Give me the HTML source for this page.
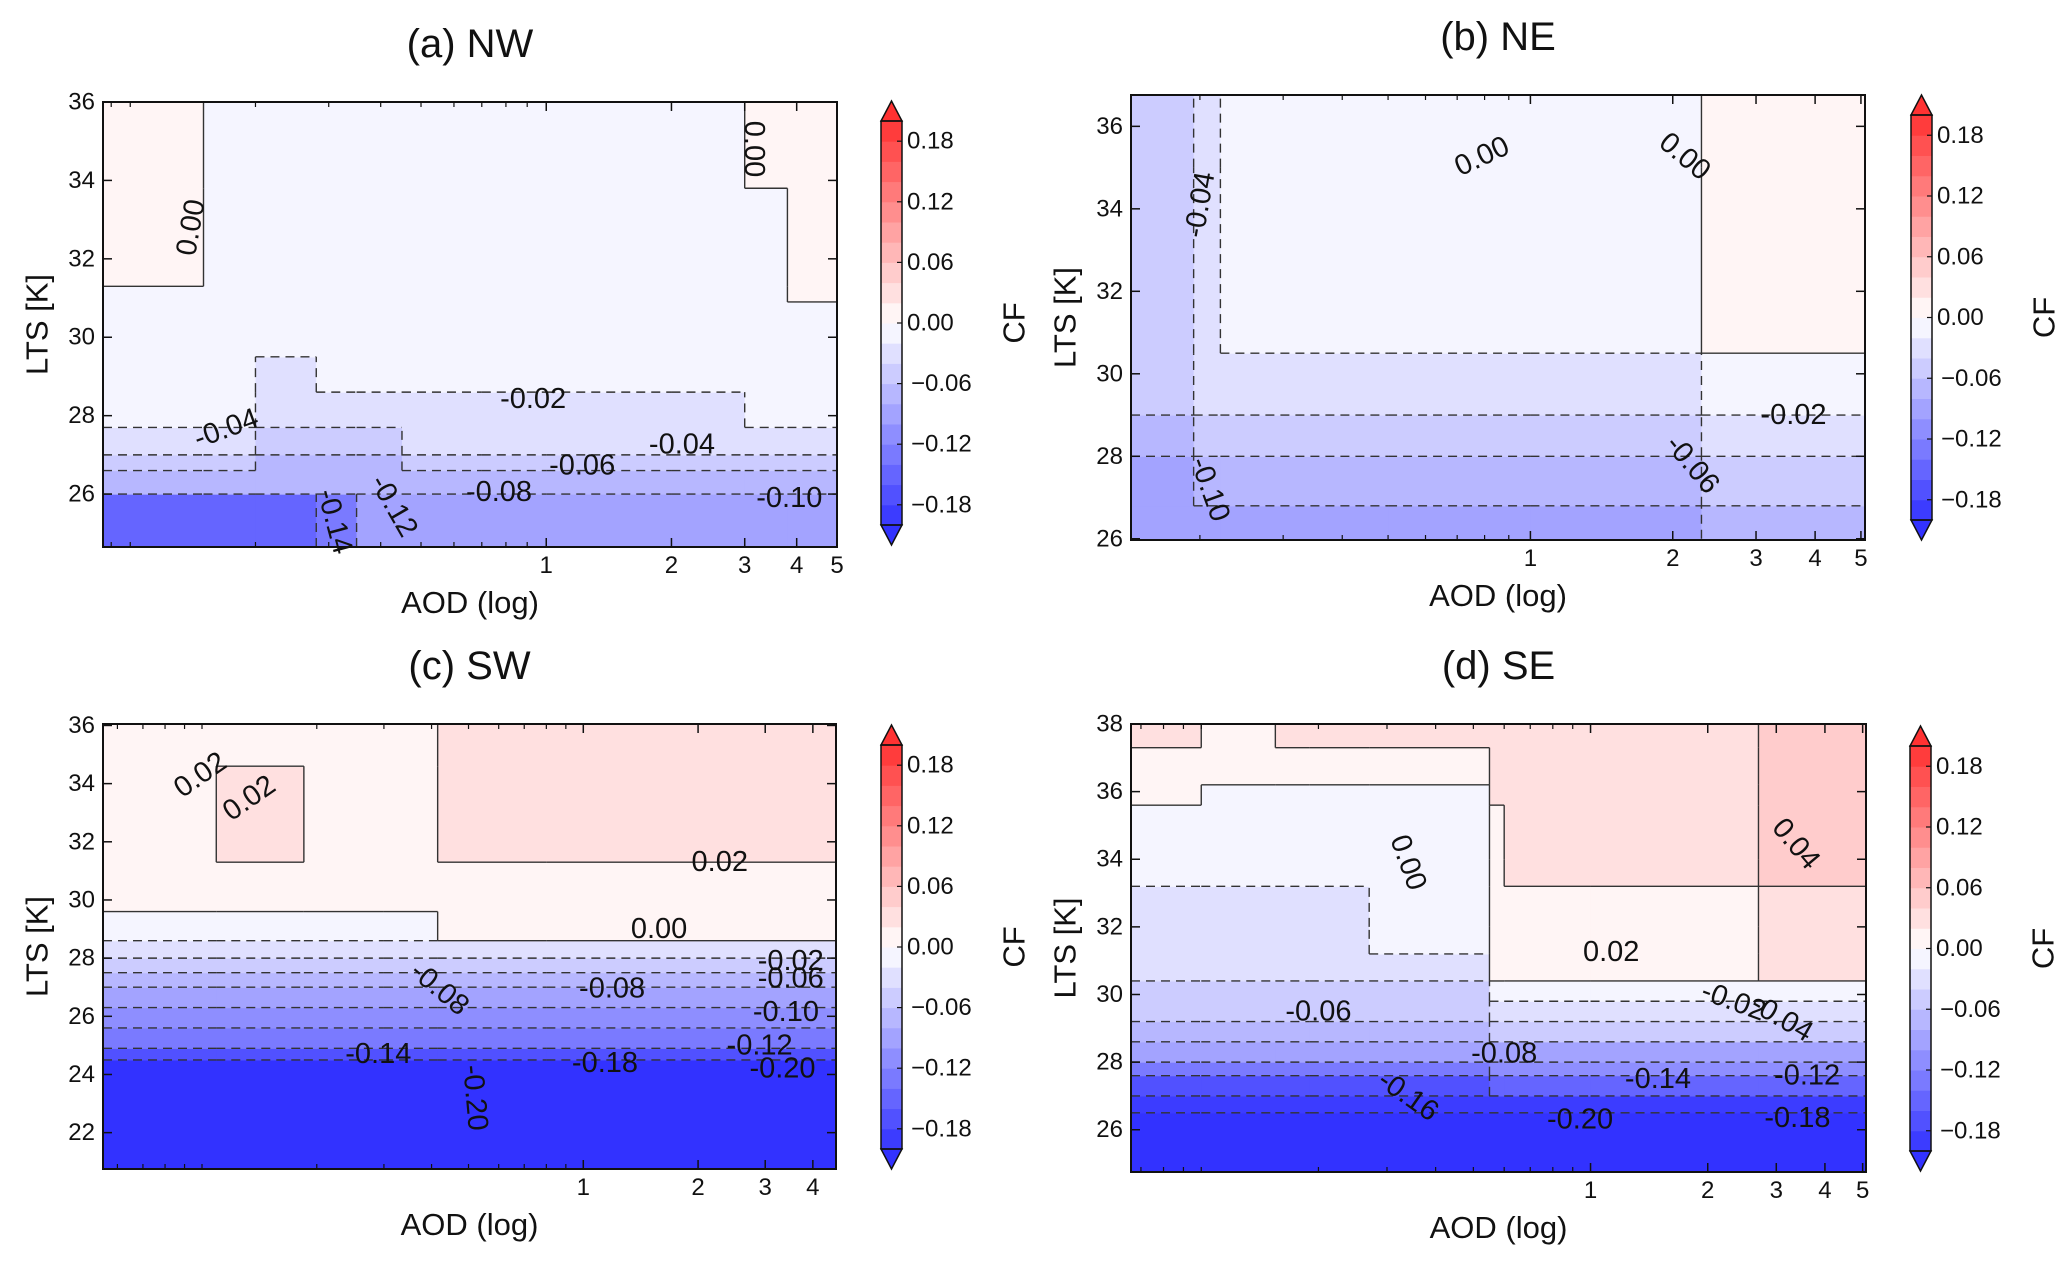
<!DOCTYPE html>
<html><head><meta charset="utf-8"><style>
html,body{margin:0;padding:0;background:#fff}
svg{display:block}
text{font-family:"Liberation Sans",sans-serif;fill:#111}
</style></head><body>
<svg id="fig" width="2067" height="1270" viewBox="0 0 2067 1270" xmlns="http://www.w3.org/2000/svg"></svg>
<script>
// ---------- DATA ----------
// Panel (a) NW
const aAodEdges=[0.086,0.15,0.2,0.28,0.35,0.45,0.7,1,2,3,3.8,5];
const aLtsEdges=[24.65,26.0,26.6,27.0,27.7,28.6,29.5,30.9,31.3,33.8,36];
const aValues=[
[-0.15,-0.15,-0.15,-0.13,-0.09,-0.09,-0.09,-0.09,-0.09,-0.09,-0.09],
[-0.07,-0.07,-0.07,-0.07,-0.07,-0.07,-0.07,-0.07,-0.07,-0.07,-0.07],
[-0.05,-0.05,-0.07,-0.07,-0.07,-0.05,-0.05,-0.05,-0.05,-0.05,-0.05],
[-0.03,-0.03,-0.05,-0.05,-0.05,-0.03,-0.03,-0.03,-0.03,-0.03,-0.03],
[-0.01,-0.01,-0.03,-0.03,-0.03,-0.03,-0.03,-0.03,-0.03,-0.01,-0.01],
[-0.01,-0.01,-0.03,-0.01,-0.01,-0.01,-0.01,-0.01,-0.01,-0.01,-0.01],
[-0.01,-0.01,-0.01,-0.01,-0.01,-0.01,-0.01,-0.01,-0.01,-0.01,-0.01],
[-0.01,-0.01,-0.01,-0.01,-0.01,-0.01,-0.01,-0.01,-0.01,-0.01,0.01],
[0.01,-0.01,-0.01,-0.01,-0.01,-0.01,-0.01,-0.01,-0.01,-0.01,0.01],
[0.01,-0.01,-0.01,-0.01,-0.01,-0.01,-0.01,-0.01,-0.01,0.01,0.01]];
const aLabels=[["0.00",0.14,32.8,-80],["0.00",3.16,34.8,90],["-0.02",0.93,28.43,0],["-0.04",0.17,27.67,-20],["-0.04",2.12,27.27,0],["-0.06",1.22,26.73,0],["-0.08",0.77,26.05,0],["-0.10",3.84,25.9,0],["-0.14",0.31,25.3,75],["-0.12",0.43,25.7,60]];

// Panel (b) NE
const bAodEdges=[0.143,0.194,0.221,0.5,1.0,2.3,5.1];
const bLtsEdges=[26,26.8,28.0,29.0,30.5,35,36.75];
const bValues=[
[-0.09,-0.09,-0.09,-0.09,-0.09,-0.07],
[-0.09,-0.07,-0.07,-0.07,-0.07,-0.05],
[-0.07,-0.05,-0.05,-0.05,-0.05,-0.03],
[-0.05,-0.03,-0.03,-0.03,-0.03,-0.01],
[-0.05,-0.03,-0.01,-0.01,-0.01,0.01],
[-0.05,-0.03,-0.01,-0.01,-0.01,0.01]];
const bLabels=[["0.00",0.79,35.27,-25],["0.00",2.12,35.27,40],["-0.04",0.2,34.1,-80],["-0.02",3.6,29.0,0],["-0.06",2.2,27.8,50],["-0.10",0.21,27.2,70]];

// Panel (c) SW
const cAodEdges=[0.055,0.109,0.185,0.3,0.415,0.8,4.6];
const cLtsEdges=[20.75,24.5,24.9,25.6,26.3,27.0,27.5,28.0,28.6,29.6,31.3,34.6,36.05];
const cValues=[
[-0.21,-0.21,-0.21,-0.21,-0.21,-0.21],
[-0.17,-0.17,-0.17,-0.17,-0.17,-0.17],
[-0.13,-0.13,-0.13,-0.13,-0.13,-0.13],
[-0.11,-0.11,-0.11,-0.11,-0.11,-0.11],
[-0.09,-0.09,-0.09,-0.09,-0.09,-0.09],
[-0.07,-0.07,-0.07,-0.07,-0.07,-0.07],
[-0.05,-0.05,-0.05,-0.05,-0.05,-0.05],
[-0.03,-0.03,-0.03,-0.03,-0.03,-0.03],
[-0.01,-0.01,-0.01,-0.01,0.01,0.01],
[0.01,0.01,0.01,0.01,0.01,0.01],
[0.01,0.03,0.01,0.01,0.03,0.03],
[0.01,0.01,0.01,0.01,0.03,0.03]];
const cLabels=[["0.02",0.099,34.3,-35],["0.02",0.133,33.5,-35],["0.02",2.28,31.3,0],["0.00",1.58,29.0,0],["-0.08",0.42,26.95,40],["-0.08",1.19,26.95,0],["-0.10",3.4,26.15,0],["-0.14",0.29,24.7,0],["-0.18",1.14,24.4,0],["-0.02",3.5,27.9,0],["-0.06",3.5,27.3,0],["-0.12",2.9,25.0,0],["-0.20",3.33,24.2,0],["-0.20",0.52,23.2,85]];

// Panel (d) SE
const dAodEdges=[0.066,0.10,0.155,0.19,0.27,0.55,0.6,1.0,2.7,5.1];
const dLtsEdges=[24.75,26.5,27.0,27.6,28.0,28.6,29.2,29.8,30.4,31.2,32.0,33.2,34.0,35.6,36.2,37.3,38];
const dValues=[
[-0.21,-0.21,-0.21,-0.21,-0.21,-0.21,-0.21,-0.21,-0.21],
[-0.19,-0.19,-0.19,-0.19,-0.19,-0.19,-0.19,-0.19,-0.19],
[-0.17,-0.17,-0.17,-0.17,-0.17,-0.15,-0.15,-0.15,-0.15],
[-0.13,-0.13,-0.13,-0.13,-0.13,-0.11,-0.11,-0.11,-0.11],
[-0.09,-0.09,-0.09,-0.09,-0.09,-0.09,-0.09,-0.09,-0.09],
[-0.07,-0.07,-0.07,-0.07,-0.07,-0.05,-0.05,-0.05,-0.05],
[-0.05,-0.05,-0.05,-0.05,-0.05,-0.03,-0.03,-0.03,-0.03],
[-0.05,-0.05,-0.05,-0.05,-0.05,-0.01,-0.01,-0.01,-0.01],
[-0.03,-0.03,-0.03,-0.03,-0.03,0.01,0.01,0.01,0.03],
[-0.03,-0.03,-0.03,-0.03,-0.01,0.01,0.01,0.01,0.03],
[-0.03,-0.03,-0.03,-0.03,-0.01,0.01,0.01,0.01,0.03],
[-0.01,-0.01,-0.01,-0.01,-0.01,0.01,0.03,0.03,0.05],
[-0.01,-0.01,-0.01,-0.01,-0.01,0.01,0.03,0.03,0.05],
[0.01,-0.01,-0.01,-0.01,-0.01,0.03,0.03,0.03,0.05],
[0.01,0.01,0.01,0.01,0.01,0.03,0.03,0.03,0.05],
[0.03,0.01,0.03,0.03,0.03,0.03,0.03,0.03,0.05]];
const dLabels=[["0.00",0.34,33.9,70],["0.04",3.37,34.45,50],["0.02",1.13,31.25,0],["-0.06",0.2,29.5,0],["-0.08",0.6,28.25,0],["-0.16",0.34,27.0,35],["-0.14",1.49,27.5,0],["-0.20",0.94,26.3,0],["-0.02",2.33,29.8,20],["-0.04",3.1,29.3,30],["-0.12",3.6,27.6,0],["-0.18",3.4,26.35,0]];

const cbTicks=[0.18,0.12,0.06,0.00,-0.06,-0.12,-0.18];
const cbLevels=[-0.20,-0.18,-0.16,-0.14,-0.12,-0.10,-0.08,-0.06,-0.04,-0.02,0,0.02,0.04,0.06,0.08,0.10,0.12,0.14,0.16,0.18,0.20];

// ---------- LAYOUT ----------
const panels=[
 {id:"a",title:"(a) NW",L:103,T:102,R:837,B:547,xmin:0.086,xmax:5,ymin:24.65,ymax:36,yt:[26,28,30,32,34,36],aod:aAodEdges,lts:aLtsEdges,vals:aValues,labels:aLabels,cbx:881,cbT:121,cbB:525},
 {id:"b",title:"(b) NE",L:1131,T:95,R:1865,B:540,xmin:0.143,xmax:5.1,ymin:25.97,ymax:36.76,yt:[26,28,30,32,34,36],aod:bAodEdges,lts:bLtsEdges,vals:bValues,labels:bLabels,cbx:1911,cbT:115,cbB:520},
 {id:"c",title:"(c) SW",L:103,T:724,R:836,B:1169,xmin:0.055,xmax:4.6,ymin:20.75,ymax:36.05,yt:[22,24,26,28,30,32,34,36],aod:cAodEdges,lts:cLtsEdges,vals:cValues,labels:cLabels,cbx:881,cbT:745,cbB:1149},
 {id:"d",title:"(d) SE",L:1131,T:724,R:1866,B:1172,xmin:0.066,xmax:5.1,ymin:24.75,ymax:38,yt:[26,28,30,32,34,36,38],aod:dAodEdges,lts:dLtsEdges,vals:dValues,labels:dLabels,cbx:1910,cbT:746,cbB:1151}
];
const NS="http://www.w3.org/2000/svg";
const fig=document.getElementById('fig');
function mk(tag,attrs,parent){const e=document.createElementNS(NS,tag);for(const k in attrs)e.setAttribute(k,attrs[k]);(parent||fig).appendChild(e);return e;}
function col(v){
  const k=Math.min(1,Math.abs(v)/0.2);const g=Math.round(255-(255-50)*k);
  return v<0?`rgb(${g},${g},255)`:`rgb(255,${g},${g})`;
}
panels.forEach(p=>{
  const xs=a=>p.L+(Math.log10(a)-Math.log10(p.xmin))/(Math.log10(p.xmax)-Math.log10(p.xmin))*(p.R-p.L);
  const ys=v=>p.B-(v-p.ymin)/(p.ymax-p.ymin)*(p.B-p.T);
  const g=mk('g',{});
  
  
  const cg=mk('g',{},g);
  
  
  const nr=p.vals.length,nc=p.vals[0].length;
  for(let r=0;r<nr;r++)for(let c=0;c<nc;c++){
    const x0=xs(p.aod[c]),x1=xs(p.aod[c+1]),y0=ys(p.lts[r+1]),y1=ys(p.lts[r]);
    const rc=mk('rect',{x:x0,y:y0,width:x1-x0+0.6,height:y1-y0+0.6,fill:col(p.vals[r][c])},cg);
    
    
  }
  const lg=mk('g',{stroke:'#333','stroke-width':1.4,fill:'none'},g);
  
  
  const seg=(x1,y1,x2,y2,a,b)=>{const neg=Math.max(a,b)<0;const l=mk('line',{x1,y1,x2,y2},lg);if(neg)l.setAttribute('stroke-dasharray','9,6');};
  for(let r=0;r<nr;r++)for(let c=0;c<nc;c++){
    const v=p.vals[r][c];
    if(c<nc-1&&p.vals[r][c+1]!==v){const x=xs(p.aod[c+1]);seg(x,ys(p.lts[r]),x,ys(p.lts[r+1]),v,p.vals[r][c+1]);}
    if(r<nr-1&&p.vals[r+1][c]!==v){const y=ys(p.lts[r+1]);seg(xs(p.aod[c]),y,xs(p.aod[c+1]),y,v,p.vals[r+1][c]);}
  }
  p.labels.forEach(L=>{
    const x=xs(L[1]),y=ys(L[2]);
    const t=mk('text',{x,y,'font-size':29,'text-anchor':'middle','dominant-baseline':'central',transform:`rotate(${L[3]} ${x} ${y})`},g);
    t.textContent=L[0];
    
    
  });
  const fr=mk('rect',{x:p.L,y:p.T,width:p.R-p.L,height:p.B-p.T,fill:'none',stroke:'#111','stroke-width':2},g);
  
  
  p.yt.forEach(v=>{const y=ys(v);
    mk('line',{x1:p.L,y1:y,x2:p.L+9,y2:y,stroke:'#111','stroke-width':1.5},g);
    mk('line',{x1:p.R,y1:y,x2:p.R-9,y2:y,stroke:'#111','stroke-width':1.5},g);
    const t=mk('text',{x:p.L-8,y:y,'font-size':24,'text-anchor':'end','dominant-baseline':'central'},g);
    t.textContent=v;
    
    
  });
  const minors=[0.06,0.07,0.08,0.09,0.1,0.2,0.3,0.4,0.5,0.6,0.7,0.8,0.9];
  minors.forEach(v=>{if(v<p.xmin||v>p.xmax)return;const x=xs(v);
    mk('line',{x1:x,y1:p.B,x2:x,y2:p.B-5,stroke:'#111','stroke-width':1.2},g);
    mk('line',{x1:x,y1:p.T,x2:x,y2:p.T+5,stroke:'#111','stroke-width':1.2},g);});
  [1,2,3,4,5].forEach(v=>{if(v>p.xmax+0.05)return;const x=Math.min(xs(v),p.R);
    mk('line',{x1:x,y1:p.B,x2:x,y2:p.B-9,stroke:'#111','stroke-width':1.5},g);
    mk('line',{x1:x,y1:p.T,x2:x,y2:p.T+9,stroke:'#111','stroke-width':1.5},g);
    const t=mk('text',{x:x,y:p.B+26,'font-size':24,'text-anchor':'middle'},g);
    t.textContent=v;
    
    
  });
  const cx=(p.L+p.R)/2,cy=(p.T+p.B)/2;
  const ti=mk('text',{x:cx,y:p.T-45,'font-size':40,'text-anchor':'middle'},g);ti.textContent=p.title;
  
  
  const xl=mk('text',{x:cx,y:p.B+66,'font-size':31,'text-anchor':'middle'},g);xl.textContent="AOD (log)";
  
  
  const yx=p.L-66;
  const yl=mk('text',{x:yx,y:cy,'font-size':31,'text-anchor':'middle','dominant-baseline':'central',transform:`rotate(-90 ${yx} ${cy})`},g);yl.textContent="LTS [K]";
  
  
  const cb=mk('g',{},g);
  
  
  const W=21,cyS=v=>p.cbB-(v+0.2)/0.4*(p.cbB-p.cbT);
  for(let i=0;i<cbLevels.length-1;i++){
    const lo=cbLevels[i],hi=cbLevels[i+1];
    mk('rect',{x:p.cbx,y:cyS(hi),width:W,height:cyS(lo)-cyS(hi)+0.5,fill:col((lo+hi)/2)},cb);
  }
  mk('polygon',{points:`${p.cbx},${p.cbT} ${p.cbx+W},${p.cbT} ${p.cbx+W/2},${p.cbT-20}`,fill:col(0.21),stroke:'#111','stroke-width':1.5},cb);
  mk('polygon',{points:`${p.cbx},${p.cbB} ${p.cbx+W},${p.cbB} ${p.cbx+W/2},${p.cbB+20}`,fill:col(-0.21),stroke:'#111','stroke-width':1.5},cb);
  mk('rect',{x:p.cbx,y:p.cbT,width:W,height:p.cbB-p.cbT,fill:'none',stroke:'#111','stroke-width':1.5},cb);
  cbTicks.forEach(v=>{const y=cyS(v);
    mk('line',{x1:p.cbx+W-5,y1:y,x2:p.cbx+W,y2:y,stroke:'#111','stroke-width':1.2},cb);
    const t=mk('text',{x:p.cbx+W+(v<0?9:5),y:y,'font-size':24,'dominant-baseline':'central'},cb);
    t.textContent=(v<0?'\u2212':'')+Math.abs(v).toFixed(2);
    
    
  });
  const fx=p.cbx+W+112,fy=(p.cbT+p.cbB)/2;
  const cf=mk('text',{x:fx,y:fy,'font-size':31,'text-anchor':'middle','dominant-baseline':'central',transform:`rotate(-90 ${fx} ${fy})`},cb);cf.textContent="CF";
  
  
});
</script>
</body></html>
